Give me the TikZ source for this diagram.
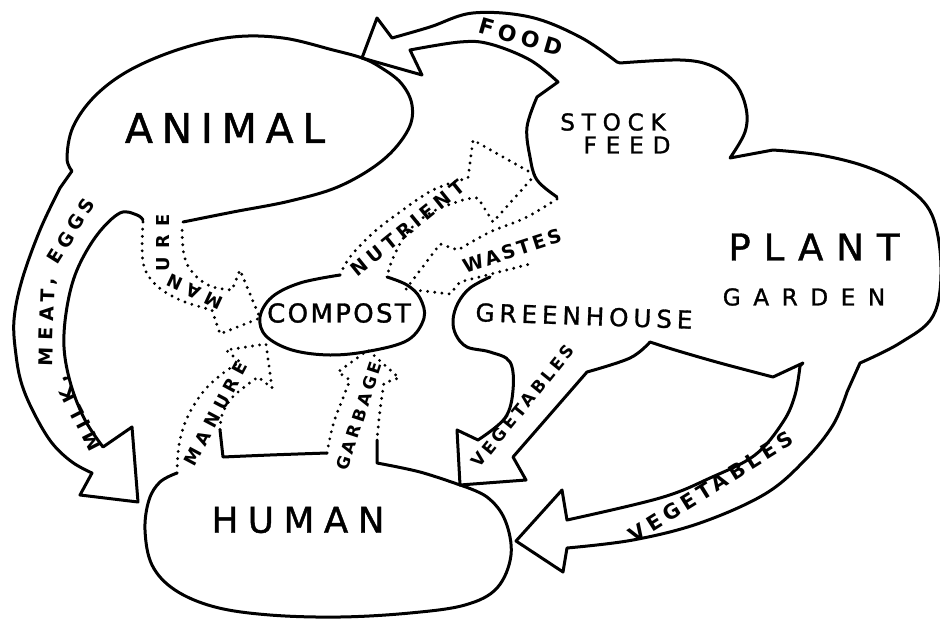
\documentclass[tikz,border=0pt]{standalone}
\usepackage{fontspec}
\newfontfamily\hand{DejaVu Sans}
\newcommand\lbl[2]{\hand\bfseries\fontsize{#1}{#1}\selectfont\addfontfeature{LetterSpace=#2}}
\newcommand\blobf[2]{\hand\fontsize{#1}{#1}\selectfont\addfontfeature{LetterSpace=#2,FakeBold=1.2}}
\tikzset{
  outl/.style={line width=1.5pt, line join=round, line cap=round},
  dotl/.style={line width=1.6pt, line cap=round, dash pattern=on 0pt off 3.6pt},
  blob/.style={inner sep=0pt},
  alab/.style={inner sep=0pt},
  sm/.style={smooth, tension=0.6}
}
\begin{document}
\begin{tikzpicture}[x=0.5pt,y=-0.5pt]
\useasboundingbox (0,0) rectangle (940,620);

% ANIMAL outline with MILK, MEAT, EGGS arrow
\draw[outl] plot[sm] coordinates {(183,222) (233,212) (290,201) (340,186) (383,160) (408,130) (412,105) (401,83) (380,67) (362,58) (333,50) (283,38) (233,37) (180,49) (130,70) (95,96) (73,127) (67,158) (72,171)}
  -- plot[sm] coordinates {(60,188) (40,230) (22,280) (14,320) (16,355) (22,385) (35,415) (52,443) (72,462) (92,473)}
  -- (80,495) -- (138,502) -- (132,427) -- (103,447)
  -- plot[sm] coordinates {(103,447) (85,420) (71,385) (64,347) (67,307) (77,270) (97,235) (120,213) (137,215) (143,220)};

% PLANT / STOCK FEED / GREENHOUSE outline with FOOD and VEGETABLES arrows
\draw[outl] plot[sm] coordinates {(557,197) (537,180) (530,157) (527,127) (537,97)}
  -- (558,82)
  -- plot[sm] coordinates {(558,82) (530,60) (490,44) (460,42) (410,50)}
  -- (422,75) -- (362,58) -- (377,18)
  -- plot[sm] coordinates {(392,38) (430,27) (473,13) (530,17) (580,37) (617,62)}
  -- plot[sm] coordinates {(620,63) (680,60) (712,66) (735,83) (746,108) (745,132) (730,158)}
  -- plot[sm] coordinates {(773,150) (820,155) (867,167) (905,186) (932,215) (941,268) (933,316) (900,343) (860,363)}
  -- plot[sm] coordinates {(847,392) (833,425) (805,460) (765,494) (700,523) (633,540) (567,548)}
  -- (563,572) -- (516,541) -- (562,490)
  -- plot[sm] coordinates {(567,520) (660,498) (710,478) (755,455) (783,422) (795,395) (800,366)}
  -- (803,363)
  -- plot[sm] coordinates {(773,377) (720,363) (675,350) (650,342)}
  -- plot[sm] coordinates {(650,342) (630,358) (587,372)}
  -- (513,457) -- (526,480) -- (460,485) -- (457,430)
  -- plot[sm] coordinates {(478,440) (505,418) (513,390) (510,362) (490,352) (467,347) (456,335) (453,320) (458,303) (470,288) (490,277)};

% HUMAN outline
\draw[outl] plot[sm] coordinates {(177,473) (160,482) (149,500) (145,530) (152,565) (175,590) (215,607) (270,615) (340,617) (410,613) (465,605) (497,588) (511,555) (505,520) (487,497) (460,485)};
\draw[outl] (220,430) -- plot[sm] coordinates {(223,457) (270,455) (327,453)};
\draw[outl] (377,440) -- plot[sm] coordinates {(377,463) (420,472) (460,485)};

% COMPOST outline
\draw[outl] plot[sm] coordinates {(387,277) (407,285) (420,298) (424,318) (408,340) (370,351) (330,355) (292,350) (266,336) (260,317) (272,297) (300,283) (340,275)};

% dotted arrows
\draw[dotl] plot[sm] coordinates {(143,222) (143,262) (155,284) (180,300) (212,310)}
  -- (220,334) -- (260,318) -- (240,270) -- (232,290)
  -- plot[sm] coordinates {(232,290) (210,286) (193,273) (184,255) (182,225)};
\draw[dotl] plot[sm] coordinates {(177,473) (179,445) (187,418) (203,392) (222,374) (240,362)}
  -- (226,350) -- (266,344) -- (272,388) -- (258,377)
  -- plot[sm] coordinates {(258,377) (243,388) (230,400) (222,415) (220,430)};
\draw[dotl] plot[sm] coordinates {(327,453) (333,425) (343,398) (350,380)}
  -- (338,372) -- (368,350) -- (399,378) -- (384,383)
  -- plot[sm] coordinates {(384,383) (380,410) (377,440)};
\draw[dotl] plot[sm] coordinates {(340,275) (350,257) (373,233) (400,212) (433,190) (468,178)}
  -- (473,140) -- (535,175) -- (493,222) -- (478,198)
  -- plot[sm] coordinates {(478,198) (463,200) (430,213) (407,233) (393,258) (387,277)};
\draw[dotl] plot[sm] coordinates {(557,199) (525,218) (490,232) (458,250)}
  -- (440,244) -- (406,289) -- (450,294) -- (460,282) -- (530,264);

% blob labels
\node[blob, font=\blobf{20.5}{21}] (animal) at (225,128) {ANIMAL};
\node[blob, font=\blobf{11.6}{29}] (stock) at (613,122) {STOCK};
\node[blob, font=\blobf{11.6}{38}] (feed) at (627,145) {FEED};
\node[blob, font=\blobf{18.5}{35}] (plant) at (814,247) {PLANT};
\node[blob, font=\blobf{11.6}{54}] (garden) at (804,297) {GARDEN};
\node[blob, font=\blobf{12.3}{20}, rotate=-2] (greenhouse) at (584,316) {GREENHOUSE};
\node[blob, font=\blobf{13}{9}] (compost) at (339,313) {COMPOST};
\node[blob, font=\blobf{17.8}{27}] (human) at (298,520) {HUMAN};

% arrow labels
\node[alab, font=\lbl{11}{22}, rotate=-16] (food) at (521,37) {FOOD};
\node[alab, font=\lbl{9.5}{24}, rotate=39] (nutrient) at (408,228) {NUTRIENT};
\node[alab, font=\lbl{9.5}{15}, rotate=18] (wastes) at (512,251) {WASTES};
\node[alab, font=\lbl{8.9}{38}, rotate=155] (manA) at (195,292) {MAN};
\node[alab, font=\lbl{8.9}{49}, rotate=90] (manB) at (163,243) {URE};
\node[alab, font=\lbl{8.9}{32}, rotate=62] (manure) at (216,414) {MANURE};
\node[alab, font=\lbl{8.5}{21}, rotate=72] (garbage) at (359,416) {GARBAGE};
\node[alab, font=\lbl{8.5}{20}, rotate=51] (vegA) at (523,406) {VEGETABLES};
\node[alab, font=\lbl{10.3}{23}, rotate=32] (vegB) at (711,487) {VEGETABLES};
\node[alab, font=\lbl{9.5}{27}, rotate=117] (milk) at (79,413) {MILK,};
\node[alab, font=\lbl{9.5}{33}, rotate=88] (meat) at (48,322) {MEAT,};
\node[alab, font=\lbl{9.5}{25}, rotate=58] (eggs) at (71,231) {EGGS};
\end{tikzpicture}
\end{document}
